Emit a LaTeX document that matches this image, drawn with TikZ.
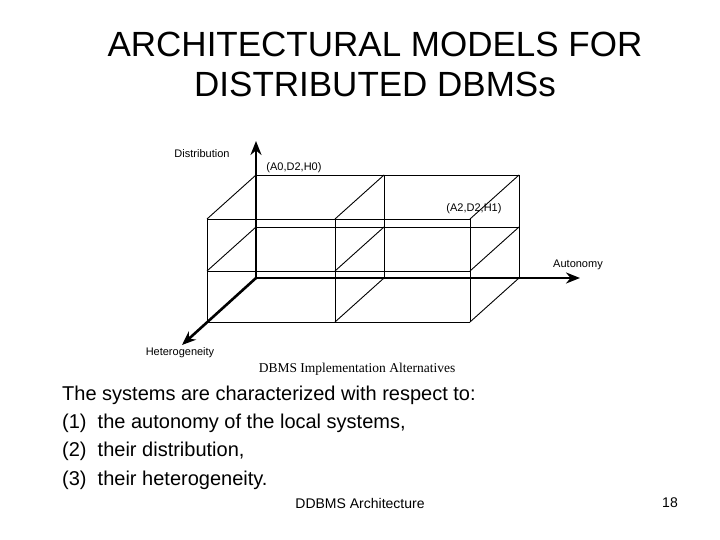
\documentclass[tikz,border=0pt]{standalone}
\usepackage{fontspec}
\setmainfont{Liberation Sans}
\newfontfamily\serif{Liberation Serif}
\usetikzlibrary{arrows.meta}
\begin{document}
\begin{tikzpicture}[x=1pt,y=-1pt,
  edge/.style={line width=0.9pt},
  axis/.style={line width=2.6pt,-{Stealth[length=14pt,width=11pt]}},
  small/.style={font=\fontsize{11}{12}\selectfont,inner sep=0pt},
  body/.style={font=\fontsize{20}{22}\selectfont,anchor=west,inner sep=0pt}]
\useasboundingbox (0,0) rectangle (720,540);
\fill[white] (0,0) rectangle (720,540);
\coordinate (Bat) at (256,175);\coordinate (Bam) at (256,227);\coordinate (Bab) at (256,278);
\coordinate (Bbt) at (384,175);\coordinate (Bbm) at (384,227);\coordinate (Bbb) at (384,278);
\coordinate (Bct) at (519,175);\coordinate (Bcm) at (519,227);\coordinate (Bcb) at (519,278);
\coordinate (Fat) at (207,219);\coordinate (Fam) at (207,271);\coordinate (Fab) at (207,322);
\coordinate (Fbt) at (335,219);\coordinate (Fbm) at (335,271);\coordinate (Fbb) at (335,322);
\coordinate (Fct) at (470,219);\coordinate (Fcm) at (470,271);\coordinate (Fcb) at (470,322);
\coordinate (O) at (256,278);
% back box
\draw[edge] (Bat)--(Bct) (Bam)--(Bcm) (Bbt)--(Bbb) (Bct)--(Bcb);
% front box
\draw[edge] (Fat)--(Fct) (Fam)--(Fcm) (Fab)--(Fcb) (Fat)--(Fab) (Fbt)--(Fbb) (Fct)--(Fcb);
% depth edges
\draw[edge] (Fat)--(Bat) (Fbt)--(Bbt) (Fct)--(Bct)
  (Fam)--(Bam) (Fbm)--(Bbm) (Fcm)--(Bcm) (Fbb)--(Bbb) (Fcb)--(Bcb);
% axes
\coordinate (D) at (256,141);\coordinate (A) at (580,278);\coordinate (H) at (182,345);
\draw[axis] (O)--(D);
\draw[axis] (O)--(A);
\draw[axis] (O)--(H);
\node[small] (ld) at (202,154) {Distribution};
\node[small] (la) at (578,265) {Autonomy};
\node[small] (lh) at (180,353) {Heterogeneity};
\node[small] (l1) at (294,168) {(A0,D2,H0)};
\node[small] (l2) at (474,209) {(A2,D2,H1)};
\node[inner sep=0pt,font=\serif\fontsize{13.5}{14}\selectfont] (cap) at (357,369) {DBMS Implementation Alternatives};
% title
\node[align=center,font=\fontsize{35}{40}\selectfont] (title) at (375,64) {ARCHITECTURAL MODELS FOR\\DISTRIBUTED DBMSs};
\node[body] (t0) at (62,395) {The systems are characterized with respect to:};
\node[body] (t1) at (62,423) {(1)\ \ the autonomy of the local systems,};
\node[body] (t2) at (62,451) {(2)\ \ their distribution,};
\node[body] (t3) at (62,480) {(3)\ \ their heterogeneity.};
\node[font=\fontsize{14}{16}\selectfont] (foot) at (360,503) {DDBMS Architecture};
\node[font=\fontsize{14}{16}\selectfont] (num) at (670,503) {18};
\end{tikzpicture}
\end{document}
